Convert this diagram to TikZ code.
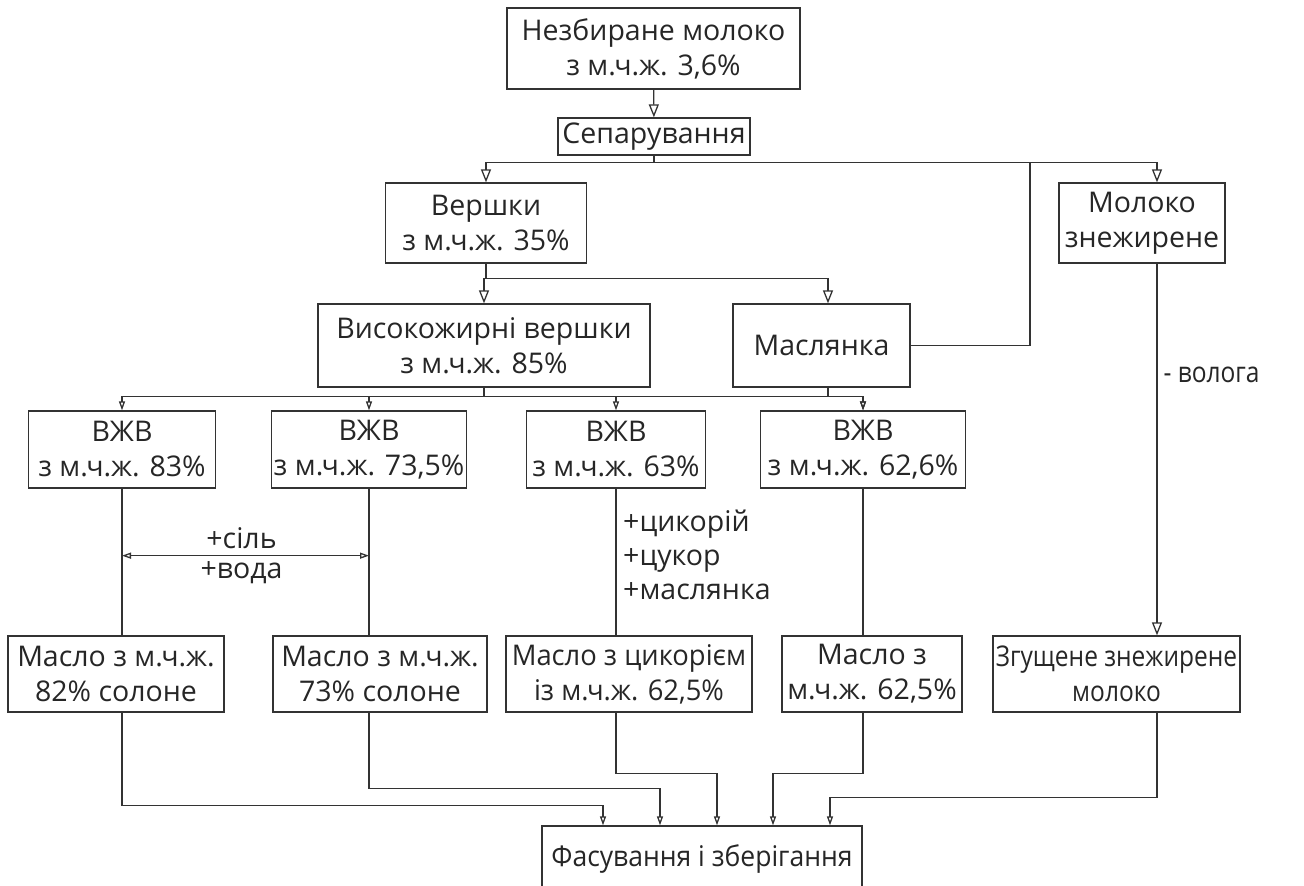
\documentclass[tikz,border=0pt]{standalone}
\usepackage{fontspec}
\setmainfont{Open Sans}
\newfontfamily\narrowfont[FakeStretch=0.86]{Open Sans}
\newfontfamily\tightfont[FakeStretch=0.93]{Open Sans}
\newfontfamily\slimfont[FakeStretch=0.96]{Open Sans}
\usetikzlibrary{arrows.meta}

\tikzset{
  box/.style 2 args={draw=black!80,line width=1.3pt,rectangle,align=center,inner sep=0pt,
    text=black!85,font=\fontsize{28.5}{35}\selectfont,minimum width=#1,minimum height=#2},
  wire/.style={draw=black!80,line width=1.3pt},
  bigarr/.style={wire,-{Triangle[open,length=13pt,width=10pt]}},
  smallarr/.style={wire,-{Triangle[open,length=9pt,width=6pt]}},
  lbl/.style={text=black!85,font=\fontsize{28.5}{34}\selectfont,inner sep=2pt}
}

\begin{document}
\begin{tikzpicture}[x=1pt,y=-1pt]
        \useasboundingbox (0,0) rectangle (1304,886);
        \node[box={293pt}{81pt}] (milk) at (653.5,48.5) {Незбиране молоко\\з м.ч.ж. 3,6\%};
        \node[box={192pt}{37pt}] (sep) at (654.0,136.5) {Сепарування};
        \node[box={201pt}{80pt}] (cream) at (486.0,223.0) {Вершки\\з м.ч.ж. 35\%};
        \node[box={166pt}{80pt}] (skim) at (1142.0,223.0) {Молоко\\знежирене};
        \node[box={332pt}{83pt}] (hfcream) at (484.0,345.5) {Високожирні вершки\\з м.ч.ж. 85\%};
        \node[box={177pt}{83pt}] (butmilk) at (821.5,345.5) {Маслянка};
        \node[box={187pt}{77pt}] (vzhv1) at (122.0,449.5) {ВЖВ\\з м.ч.ж. 83\%};
        \node[box={195pt}{77pt}] (vzhv2) at (369.0,449.5) {ВЖВ\\з м.ч.ж. 73,5\%};
        \node[box={179pt}{77pt}] (vzhv3) at (616.0,449.5) {ВЖВ\\з м.ч.ж. 63\%};
        \node[box={205pt}{77pt}] (vzhv4) at (863.0,449.5) {ВЖВ\\з м.ч.ж. 62,6\%};
        \node[box={216pt}{76pt}] (butter1) at (116.0,674.0) {Масло з м.ч.ж.\\82\% солоне};
        \node[box={214pt}{76pt}] (butter2) at (380.0,674.0) {Масло з м.ч.ж.\\73\% солоне};
        \node[box={246pt}{76pt},font=\slimfont\fontsize{28.5}{35}\selectfont] (butter3) at (629.0,674.0) {Масло з цикорієм\\із м.ч.ж. 62,5\%};
        \node[box={180pt}{76pt}] (butter4) at (872.0,674.0) {Масло з\\м.ч.ж. 62,5\%};
        \node[box={247pt}{76pt},font=\narrowfont\fontsize{28.5}{35}\selectfont] (condmilk) at (1116.5,674.0) {Згущене знежирене\\молоко};
        \node[box={320pt}{66pt},font=\tightfont\fontsize{28.5}{35}\selectfont] (pack) at (702.0,859.0) {Фасування і зберігання};
        \coordinate (ret) at (1030,162);

        \draw[bigarr] (milk) -- (sep);
        \draw[bigarr] (sep.south) -- ++(0,7) -| (cream.north);
        \draw[bigarr] (sep.south) -- ++(0,7) -| ([xshift=15pt]skim.north);
        \draw[wire] (butmilk.east) -| (ret);
        \draw[bigarr] (cream.south) -- ++(0,15) -| (hfcream.north);
        \draw[bigarr] (cream.south) -- ++(0,15) -| ([xshift=6.5pt]butmilk.north);
        \foreach \i in {1,...,4}
          \draw[smallarr] (hfcream.south) -- ++(0,9) -| (vzhv\i.north);
        \draw[smallarr] ([xshift=6.5pt]butmilk.south) -- ++(0,9) -| (vzhv4.north);
        \foreach \i in {1,...,4}
          \draw[wire] (vzhv\i.south) -- (vzhv\i.south |- butter\i.north);
        \draw[wire,{Triangle[open,length=9pt,width=6pt]}-{Triangle[open,length=9pt,width=6pt]}]
          ([yshift=-67pt]vzhv1.south) -- ([yshift=-67pt]vzhv2.south)
          node[lbl,midway,above=4pt,xshift=-4pt] (salt) {+сіль} node[lbl,midway,below=3pt,xshift=-4pt] (water) {+вода};
        \node[lbl,anchor=north west,align=left] (adds) at ([xshift=5pt,yshift=-19pt]vzhv3.south) {+цикорій\\+цукор\\+маслянка};
        \draw[bigarr] ([xshift=15pt]skim.south) -- ([xshift=15pt]skim.south |- condmilk.north)
          node[lbl,pos=0.3,anchor=west,xshift=4pt,font=\narrowfont\fontsize{28.5}{34}\selectfont] (moist) {- волога};

        \draw[smallarr] (vzhv1.south |- butter1.south) -- ++(0,93) -| ([xshift=-99pt]pack.north);
        \draw[smallarr] (vzhv2.south |- butter2.south) -- ++(0,76) -| ([xshift=-42pt]pack.north);
        \draw[smallarr] (vzhv3.south |- butter3.south) -- ++(0,61) -| ([xshift=15pt]pack.north);
        \draw[smallarr] (vzhv4.south |- butter4.south) -- ++(0,61) -| ([xshift=71pt]pack.north);
        \draw[smallarr] ([xshift=15pt]skim.south |- condmilk.south) -- ++(0,85) -| ([xshift=128pt]pack.north);
\end{tikzpicture}
\end{document}
